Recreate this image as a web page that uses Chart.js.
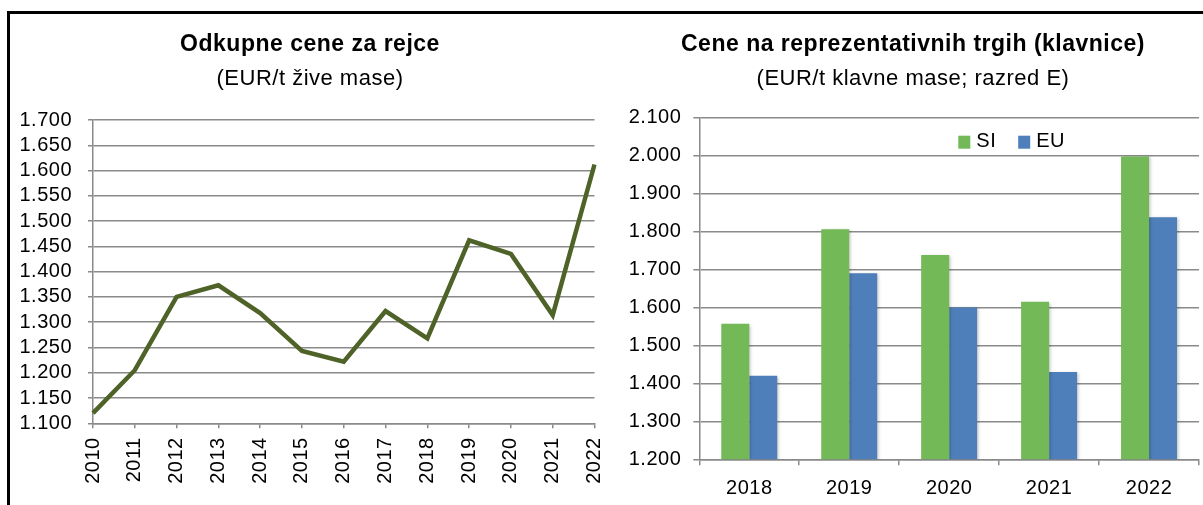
<!DOCTYPE html>
<html>
<head>
<meta charset="utf-8">
<script src="https://cdn.jsdelivr.net/npm/chart.js@4.4.1/dist/chart.umd.min.js"></script>
<style>
  html, body { margin: 0; padding: 0; background: #fff; overflow: hidden; }
  .frame {
    position: absolute; left: 7px; top: 11px; width: 1300px; height: 600px;
    border-top: 3px solid #000; border-left: 3px solid #000;
  }
  #lineChart { position: absolute; left: 10px; top: 14px; }
  #barChart { position: absolute; left: 623px; top: 14px; }
</style>
</head>
<body>
<div class="frame"></div>
<canvas id="lineChart" width="600" height="491"></canvas>
<canvas id="barChart" width="580" height="491"></canvas>

<script>
// Odkupne cene za rejce (EUR/t zive mase)
const years = ['2010', '2011', '2012', '2013', '2014', '2015', '2016',
               '2017', '2018', '2019', '2020', '2021', '2022'];
const odkupneCene = [1120, 1205, 1350, 1373, 1318, 1243, 1222,
                     1322, 1268, 1462, 1435, 1314, 1612];

// Cene na reprezentativnih trgih (EUR/t klavne mase; razred E)
const barYears = ['2018', '2019', '2020', '2021', '2022'];
const cenaSI = [1557, 1806, 1738, 1615, 1998];
const cenaEU = [1420, 1690, 1600, 1430, 1838];

const FONT = 'Liberation Sans, Arial, sans-serif';
const GRID = '#8a8a8a';
const TICK_FONT = { family: FONT, size: 20 };

// 1.700 style thousands separator
function fmtThousands(v) {
    const s = String(Math.round(v));
    return s.length > 3 ? s.slice(0, -3) + '.' + s.slice(-3) : s;
}

function titleOpts(text, pad) {
    return {
        display: true,
        text: text,
        color: '#000',
        font: { family: FONT, size: 23, weight: 'bold' },
        padding: pad
    };
}

function subtitleOpts(text, pad) {
    return {
        display: true,
        text: text,
        color: '#000',
        font: { family: FONT, size: 22, weight: 'normal' },
        padding: pad
    };
}

// x axis: fixed height, and a fixed gap on the right so the titles stay centred on the canvas
function fixX(height, right) {
    return s => {
        s.height = height;
        s.paddingLeft = 0;
        s.paddingRight = right;
    };
}

// the office-style text is set a bit loose
const spacing = {
    id: 'spacing',
    beforeUpdate(chart) { chart.ctx.letterSpacing = '0.5px'; },
    beforeDraw(chart) { chart.ctx.letterSpacing = '0.5px'; }
};

// legend drawn inside the plot area, under the top gridline
const innerLegend = {
    id: 'innerLegend',
    afterDraw(chart) {
        const ctx = chart.ctx;
        const area = chart.chartArea;
        let x = area.left + 259;
        const y = area.top + 24;
        ctx.save();
        ctx.font = '20px ' + FONT;
        ctx.textBaseline = 'middle';
        chart.data.datasets.forEach(ds => {
            ctx.fillStyle = ds.backgroundColor;
            ctx.fillRect(x, y - 6, 12, 13);
            ctx.fillStyle = '#000';
            ctx.fillText(ds.label, x + 18, y);
            x += 18 + ctx.measureText(ds.label).width + 22;
        });
        ctx.restore();
    }
};

// soft shadow to the right of the bars
const barShadow = {
    id: 'barShadow',
    beforeDatasetsDraw(chart) {
        const ctx = chart.ctx;
        ctx.save();
        ctx.shadowColor = 'rgba(0,0,0,0.22)';
        ctx.shadowBlur = 3;
        ctx.shadowOffsetX = 2;
        ctx.shadowOffsetY = 1;
    },
    afterDatasetsDraw(chart) {
        chart.ctx.restore();
    }
};

function initLineChart() {
    const ctx = document.getElementById('lineChart').getContext('2d');
    new Chart(ctx, {
        type: 'line',
        data: {
            labels: years,
            datasets: [{
                data: odkupneCene,
                borderColor: '#4f6228',
                borderWidth: 4.5,
                pointRadius: 0,
                tension: 0,
                fill: false
            }]
        },
        options: {
            responsive: false,
            animation: false,
            layout: { padding: 0 },
            plugins: {
                legend: { display: false },
                tooltip: { enabled: false },
                title: titleOpts('Odkupne cene za rejce', { top: 17.2, bottom: 6.5 }),
                subtitle: subtitleOpts('(EUR/t žive mase)', { top: 0, bottom: 28.3 })
            },
            scales: {
                x: {
                    offset: false,
                    grid: { drawOnChartArea: false, drawTicks: true, tickLength: 5, color: GRID, lineWidth: 1.5 },
                    border: { color: GRID, width: 1.5 },
                    ticks: {
                        color: '#000', font: TICK_FONT,
                        autoSkip: false, minRotation: 90, maxRotation: 90, padding: 9
                    },
                    afterFit: fixX(81.7, 15.5)
                },
                y: {
                    min: 1100, max: 1700,
                    grid: { color: GRID, lineWidth: 1.5, tickLength: 5 },
                    border: { color: GRID, width: 1.5 },
                    ticks: {
                        stepSize: 50, autoSkip: false, color: '#000', padding: 16,
                        font: TICK_FONT,
                        callback: v => fmtThousands(v)
                    },
                    afterFit: s => { s.width = 83; }
                }
            }
        },
        plugins: [spacing]
    });
}

function initBarChart() {
    const ctx = document.getElementById('barChart').getContext('2d');
    new Chart(ctx, {
        type: 'bar',
        data: {
            labels: barYears,
            datasets: [
                { label: 'SI', data: cenaSI, backgroundColor: '#74b957' },
                { label: 'EU', data: cenaEU, backgroundColor: '#4f7fba' }
            ]
        },
        options: {
            responsive: false,
            animation: false,
            categoryPercentage: 0.56,
            barPercentage: 1,
            layout: { padding: 0 },
            plugins: {
                legend: { display: false },
                tooltip: { enabled: false },
                title: titleOpts('Cene na reprezentativnih trgih (klavnice)', { top: 17.2, bottom: 6.5 }),
                subtitle: subtitleOpts('(EUR/t klavne mase; razred E)', { top: 0, bottom: 26 })
            },
            scales: {
                x: {
                    grid: { drawOnChartArea: false, drawTicks: true, tickLength: 6, color: GRID, lineWidth: 1.5 },
                    border: { color: GRID, width: 1.5 },
                    ticks: { color: '#000', font: TICK_FONT, padding: 11 },
                    afterFit: fixX(45.7, 4)
                },
                y: {
                    min: 1200, max: 2100,
                    grid: { color: GRID, lineWidth: 1.5, tickLength: 6 },
                    border: { color: GRID, width: 1.5 },
                    ticks: {
                        stepSize: 100, autoSkip: false, color: '#000', padding: 12,
                        font: TICK_FONT,
                        callback: v => fmtThousands(v)
                    },
                    afterFit: s => { s.width = 76.3; }
                }
            }
        },
        plugins: [spacing, barShadow, innerLegend]
    });
}

initLineChart();
initBarChart();
</script>
</body>
</html>
